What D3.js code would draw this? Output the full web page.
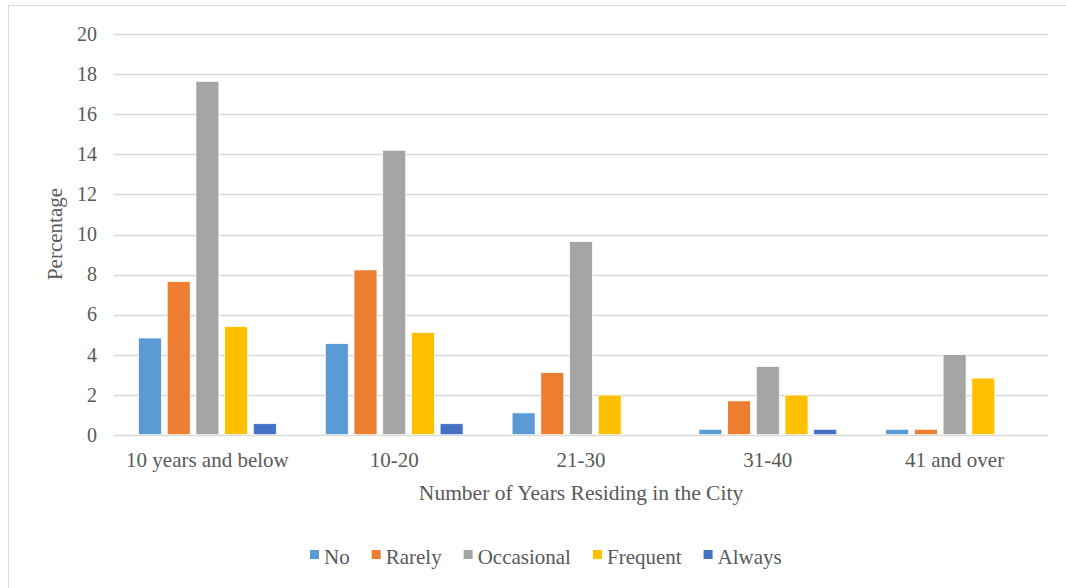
<!DOCTYPE html>
<html>
<head>
<meta charset="utf-8">
<script src="https://cdn.jsdelivr.net/npm/d3@7"></script>
<style>
  html, body { margin: 0; padding: 0; background: #fff; }
  svg { display: block; }
  svg text { font-family: "Liberation Serif", "Times New Roman", serif; }
</style>
</head>
<body>
<svg id="chart" width="1066" height="588"></svg>
<script>
// Categories along the x axis
const categories = ["10 years and below", "10-20", "21-30", "31-40", "41 and over"];
// Response series and their colours
const seriesNames = ["No", "Rarely", "Occasional", "Frequent", "Always"];
const seriesColors = ["#5B9BD5", "#ED7D31", "#A5A5A5", "#FFC000", "#4472C4"];
// Percentages per series, one value per category
const noValues         = [4.83, 4.55, 1.09, 0.27, 0.27];
const rarelyValues     = [7.65, 8.23, 3.11, 1.69, 0.27];
const occasionalValues = [17.65, 14.21, 9.65, 3.41, 4.00];
const frequentValues   = [5.40, 5.11, 1.98, 1.98, 2.83];
const alwaysValues     = [0.55, 0.55, 0.00, 0.27, 0.00];
// Y axis ticks
const yTicks = [0, 2, 4, 6, 8, 10, 12, 14, 16, 18, 20];

const seriesValues = [noValues, rarelyValues, occasionalValues, frequentValues, alwaysValues];

const FONT = "'Liberation Serif', 'Times New Roman', serif";
const svg = d3.select("#chart");
const textColor = "#595959";
const gridColor = "#D9D9D9";

// Outer chart frame
svg.append("rect")
  .attr("x", 8.5).attr("y", 5.5)
  .attr("width", 1080).attr("height", 600)
  .attr("fill", "none").attr("stroke", gridColor).attr("stroke-width", 1);

const plot = { left: 114, right: 1048, top: 34.3, bottom: 434.7 };

const y = d3.scaleLinear().domain([0, 20]).range([plot.bottom, plot.top]);
const x0 = d3.scaleBand().domain(categories).range([plot.left, plot.right]).padding(0);
const groupWidth = 137.8;
const x1 = d3.scaleBand().domain(seriesNames)
  .range([(x0.bandwidth() - groupWidth) / 2, (x0.bandwidth() + groupWidth) / 2])
  .paddingInner(0.2).paddingOuter(0);

// Horizontal gridlines
svg.append("g").selectAll("line")
  .data(yTicks)
  .join("line")
  .attr("x1", plot.left).attr("x2", plot.right)
  .attr("y1", d => Math.round(y(d)) + 0.5).attr("y2", d => Math.round(y(d)) + 0.5)
  .attr("stroke", gridColor).attr("stroke-width", 1.3);

// Y axis tick labels
const yAxis = d3.axisLeft(y).tickValues(yTicks).tickSize(0).tickPadding(17);
const yg = svg.append("g").attr("transform", `translate(${plot.left},0)`).call(yAxis)
  .attr("font-family", FONT).attr("font-size", 20);
yg.select(".domain").remove();
yg.selectAll("text").attr("fill", textColor);

// Bars
const groups = svg.append("g").selectAll("g")
  .data(categories)
  .join("g")
  .attr("transform", d => `translate(${x0(d)},0)`);

groups.selectAll("rect")
  .data((c, ci) => seriesNames.map((s, si) => ({ s, si, v: seriesValues[si][ci] })))
  .join("rect")
  .filter(d => d.v > 0)
  .attr("x", d => x1(d.s))
  .attr("width", x1.bandwidth())
  .attr("y", d => y(d.v))
  .attr("height", d => y(0) - y(d.v))
  .attr("fill", d => seriesColors[d.si])
  .attr("stroke", "#fff")
  .attr("stroke-width", 0.75);

// X axis category labels
const xAxis = d3.axisBottom(x0).tickSize(0).tickPadding(17);
const xg = svg.append("g").attr("transform", `translate(0,${plot.bottom})`).call(xAxis)
  .attr("font-family", FONT).attr("font-size", 21);
xg.select(".domain").remove();
xg.selectAll("text").attr("fill", textColor);

// Axis titles
svg.append("text")
  .attr("x", 581).attr("y", 500)
  .attr("text-anchor", "middle")
  .attr("fill", textColor)
  .attr("font-family", FONT)
  .attr("font-size", 21.5)
  .text("Number of Years Residing in the City");

svg.append("text")
  .attr("transform", "translate(62,234) rotate(-90)")
  .attr("text-anchor", "middle")
  .attr("fill", textColor)
  .attr("font-family", FONT)
  .attr("font-size", 21)
  .text("Percentage");

// Legend
const legend = svg.append("g").attr("transform", "translate(310,557)");
let lx = 0;
seriesNames.forEach((name, i) => {
  const item = legend.append("g").attr("transform", `translate(${lx},0)`);
  item.append("rect")
    .attr("x", 0).attr("y", -7)
    .attr("width", 9).attr("height", 9)
    .attr("fill", seriesColors[i]);
  const t = item.append("text")
    .attr("x", 14).attr("y", 0)
    .attr("dy", "0.35em")
    .attr("fill", textColor)
    .attr("font-family", FONT)
    .attr("font-size", 21)
    .text(name);
  lx += 14 + t.node().getComputedTextLength() + 22;
});
</script>
</body>
</html>
